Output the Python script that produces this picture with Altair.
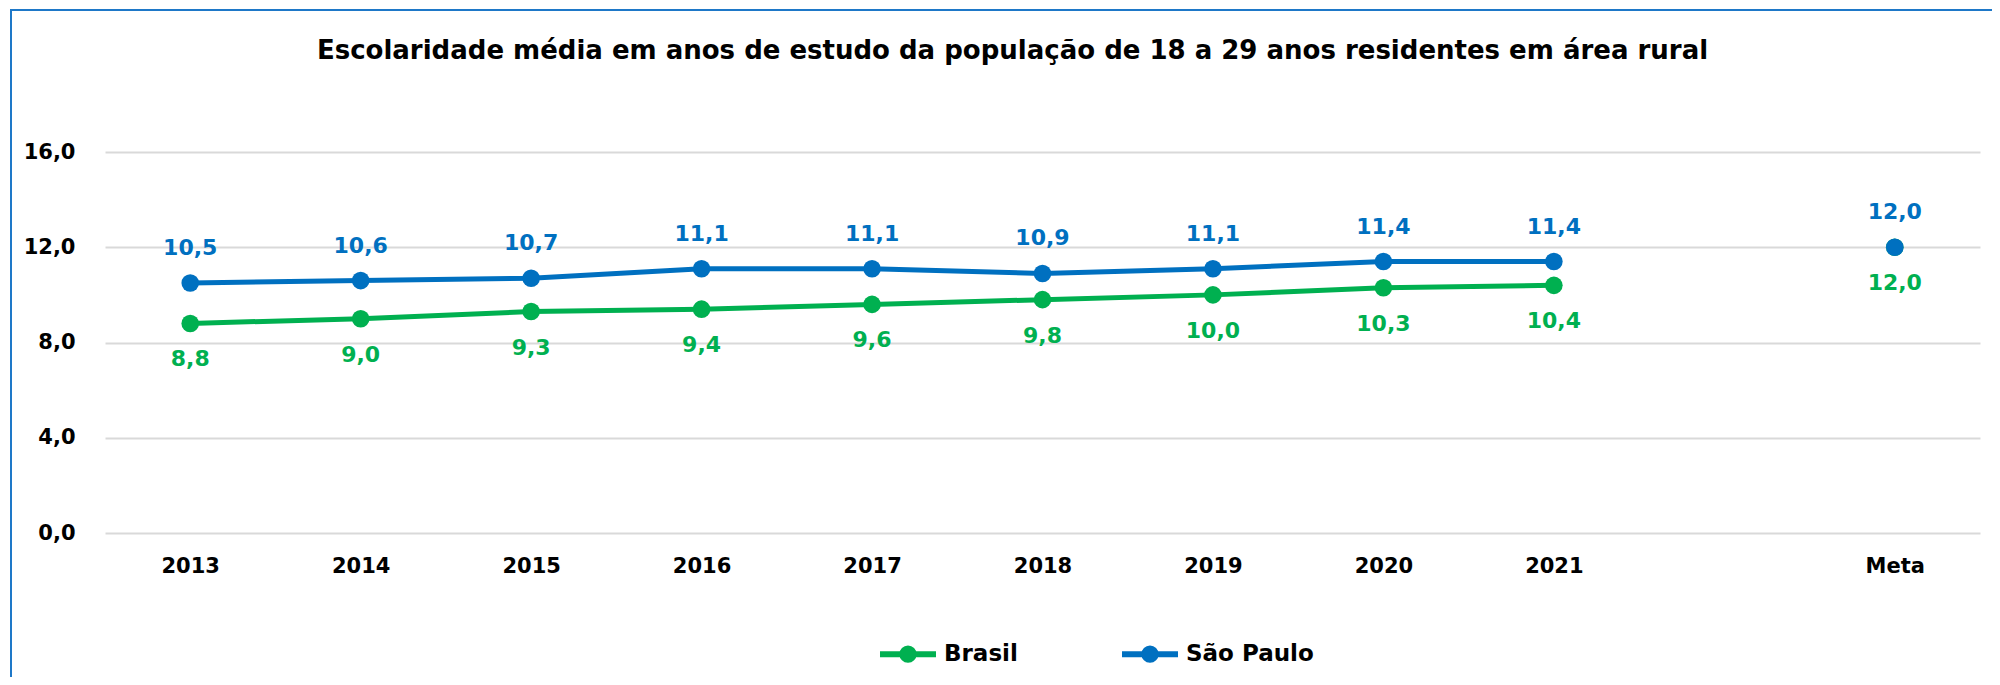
import altair as alt
import pandas as pd

# ---- data ----
categorias = ["2013", "2014", "2015", "2016", "2017", "2018", "2019", "2020", "2021", " ", "Meta"]
anos = ["2013", "2014", "2015", "2016", "2017", "2018", "2019", "2020", "2021"]
brasil = [8.8, 9.0, 9.3, 9.4, 9.6, 9.8, 10.0, 10.3, 10.4]
sao_paulo = [10.5, 10.6, 10.7, 11.1, 11.1, 10.9, 11.1, 11.4, 11.4]
meta_brasil = 12.0
meta_sao_paulo = 12.0
series = ["Brasil", "São Paulo"]
cores = ["#00B050", "#0070C0"]
y_ticks = [0, 4, 8, 12, 16]
titulo = "Escolaridade média em anos de estudo da população de 18 a 29 anos residentes em área rural"

rows = []
for a, v in zip(anos, brasil):
    rows.append({"serie": "Brasil", "cat": a, "valor": v, "tipo": "ano"})
rows.append({"serie": "Brasil", "cat": "Meta", "valor": meta_brasil, "tipo": "meta"})
for a, v in zip(anos, sao_paulo):
    rows.append({"serie": "São Paulo", "cat": a, "valor": v, "tipo": "ano"})
rows.append({"serie": "São Paulo", "cat": "Meta", "valor": meta_sao_paulo, "tipo": "meta"})
df = pd.DataFrame(rows)

FONT = "DejaVu Sans"
W, H = 1875, 381

x_enc = alt.X(
    "cat:N",
    sort=categorias,
    scale=alt.Scale(domain=categorias, type="point", padding=0.5),
    axis=alt.Axis(
        title=None, labelAngle=0, domain=False, ticks=False, grid=False,
        labelFont=FONT, labelFontSize=21, labelFontWeight="bold", labelColor="#000000",
        labelPadding=22,
    ),
)
y_enc = alt.Y(
    "valor:Q",
    scale=alt.Scale(domain=[0, 16], nice=False, zero=True),
    axis=alt.Axis(
        title=None, values=y_ticks, domain=False, ticks=False,
        gridColor="#D9D9D9", gridWidth=2,
        labelFont=FONT, labelFontSize=21, labelFontWeight="bold", labelColor="#000000",
        labelPadding=30,
        labelExpr="replace(format(datum.value, '.1f'), '.', ',')",
    ),
)
legend_symbol = "M-1,0H1M0.2,0A0.2,0.2,0,1,1,-0.2,0A0.2,0.2,0,1,1,0.2,0Z"
color_enc = alt.Color(
    "serie:N",
    scale=alt.Scale(domain=series, range=cores),
    legend=alt.Legend(
        title=None, orient="none", direction="horizontal",
        legendX=772, legendY=471,
        symbolType=legend_symbol, symbolSize=3136, symbolStrokeWidth=6,
        labelFont=FONT, labelFontSize=23, labelFontWeight="bold", labelColor="#000000",
        labelOffset=5, columnPadding=92, padding=0,
    ),
)

base = alt.Chart(df)

frame = alt.Chart(pd.DataFrame({"k": [0]})).mark_rect(
    fill=None, stroke="#1E78C8", strokeWidth=2
).encode(
    x=alt.value(-94), x2=alt.value(2100), y=alt.value(-142), y2=alt.value(800)
)

lines = base.transform_filter(alt.datum.tipo == "ano").mark_line(strokeWidth=5).encode(
    x=x_enc, y=y_enc, color=color_enc
)
points = base.mark_point(filled=True, size=310, opacity=1).encode(
    x=x_enc, y=y_enc, color=color_enc
)

txt = base.transform_calculate(
    rotulo="replace(format(datum.valor, '.1f'), '.', ',')"
)
lab_sp = txt.transform_filter(alt.datum.serie == "São Paulo").mark_text(
    font=FONT, fontSize=22, fontWeight="bold", color="#0070C0", dy=-35, baseline="middle"
).encode(x=x_enc, y=y_enc, text="rotulo:N")
lab_br = txt.transform_filter(alt.datum.serie == "Brasil").mark_text(
    font=FONT, fontSize=22, fontWeight="bold", color="#00B050", dy=36, baseline="middle"
).encode(x=x_enc, y=y_enc, text="rotulo:N")

chart = alt.layer(frame, lines, points, lab_sp, lab_br).properties(
    width=W, height=H,
    title=alt.TitleParams(
        text=titulo, font=FONT, fontSize=26, fontWeight="bold", color="#000000",
        anchor="middle", frame="group", offset=-55, dx=-30,
    ),
    autosize=alt.AutoSizeParams(type="none"),
    padding={"left": 97, "top": 144, "right": 12, "bottom": 144},
    background="#FFFFFF",
).configure_view(stroke=None)

chart.save("out.html", embed_options={"renderer": "svg", "actions": False})
